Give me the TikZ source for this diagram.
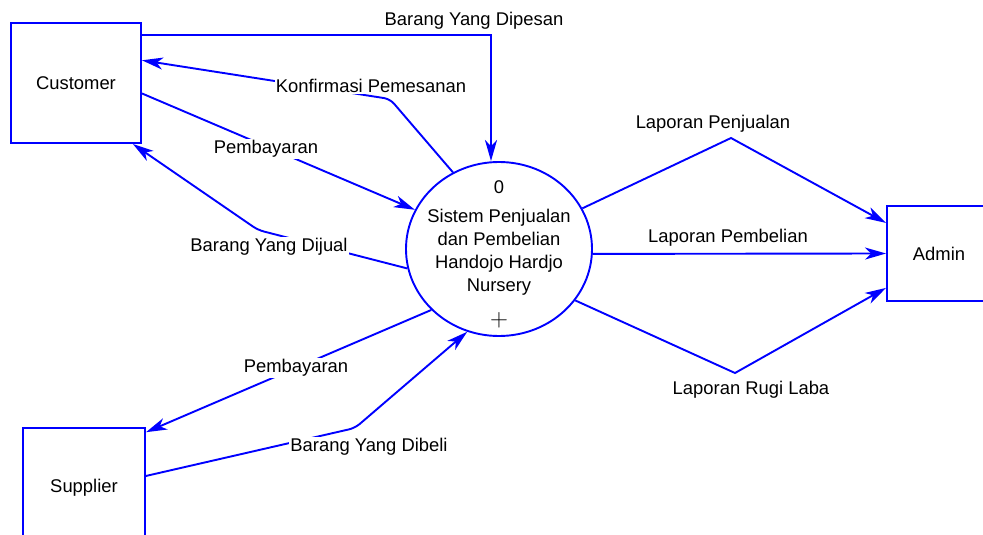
\documentclass[tikz,border=0pt]{standalone}
\usepackage{fontspec}
\setmainfont{Liberation Sans}
\usetikzlibrary{arrows.meta,shapes.geometric}
\definecolor{flowblue}{RGB}{0,0,255}
\begin{document}
\begin{tikzpicture}[x=1pt,y=-1pt,font=\fontsize{18.4}{23}\selectfont,
    entity/.style 2 args={draw=flowblue,line width=1.9pt,minimum width=#1,minimum height=#2,inner sep=0pt},
    flow/.style={draw=flowblue,line width=1.9pt,-{Stealth[length=21pt,width=12pt,inset=6pt]}},
    lbl/.style={fill=white,inner sep=1pt}]
      \useasboundingbox (0,0) rectangle (983,535);
      \node[entity={130pt}{120pt}] (cust) at (76,83) {Customer};
      \node[entity={122pt}{120pt}] (supp) at (84,488) {Supplier};
      \node[entity={104pt}{95pt}] (admin) at (939,253.5) {Admin};
      \node[draw=flowblue,line width=1.9pt,ellipse,minimum width=186pt,minimum height=174pt] (proc) at (499,249) {};
      \node (pnum) at (499,187) {0};
      \node[align=center] (pname) at (499,252) {Sistem Penjualan\\dan Pembelian\\Handojo Hardjo\\Nursery};
      \node (pplus) at (499,320) {\fontsize{30}{30}\selectfont$+$};
      \coordinate (kpb) at (390,99);
      \coordinate (djb) at (258,230);
      \coordinate (dbb) at (355,428);
      \coordinate (lpj) at (731,138);
      \coordinate (lrl) at (735,373);
      \draw[flow] (cust.36) -| ([xshift=-8pt]proc.north);
      \draw[flow,rounded corners=6pt] (proc.121) -- (kpb) -- (cust.19);
      \draw[flow] (cust.-9) -- (proc.155);
      \draw[flow,rounded corners=6pt] (proc.192) -- (djb) -- (cust.-47);
      \draw[flow] (proc.222) -- (supp.42);
      \draw[flow,rounded corners=6pt] (supp.11) -- (dbb) -- (proc.249);
      \draw[flow] (proc.26) -- (lpj) -- (admin.150);
      \draw[flow] (proc.357) -- (admin.west);
      \draw[flow] (proc.326) -- (lrl) -- (admin.213);
      \node (dipesan) at (474,21) {Barang Yang Dipesan};
      \node[lbl] (konf) at (371,86) {Konfirmasi Pemesanan};
      \node[lbl] (bayarc) at (266,149) {Pembayaran};
      \node[lbl] (dijual) at (269,247) {Barang Yang Dijual};
      \node[lbl] (bayars) at (296,368) {Pembayaran};
      \node[lbl] (dibeli) at (369,447) {Barang Yang Dibeli};
      \node (lpenj) at (713,124) {Laporan Penjualan};
      \node (lpemb) at (728,238) {Laporan Pembelian};
      \node (lrugi) at (751,390) {Laporan Rugi Laba};
    \end{tikzpicture}
\end{document}
